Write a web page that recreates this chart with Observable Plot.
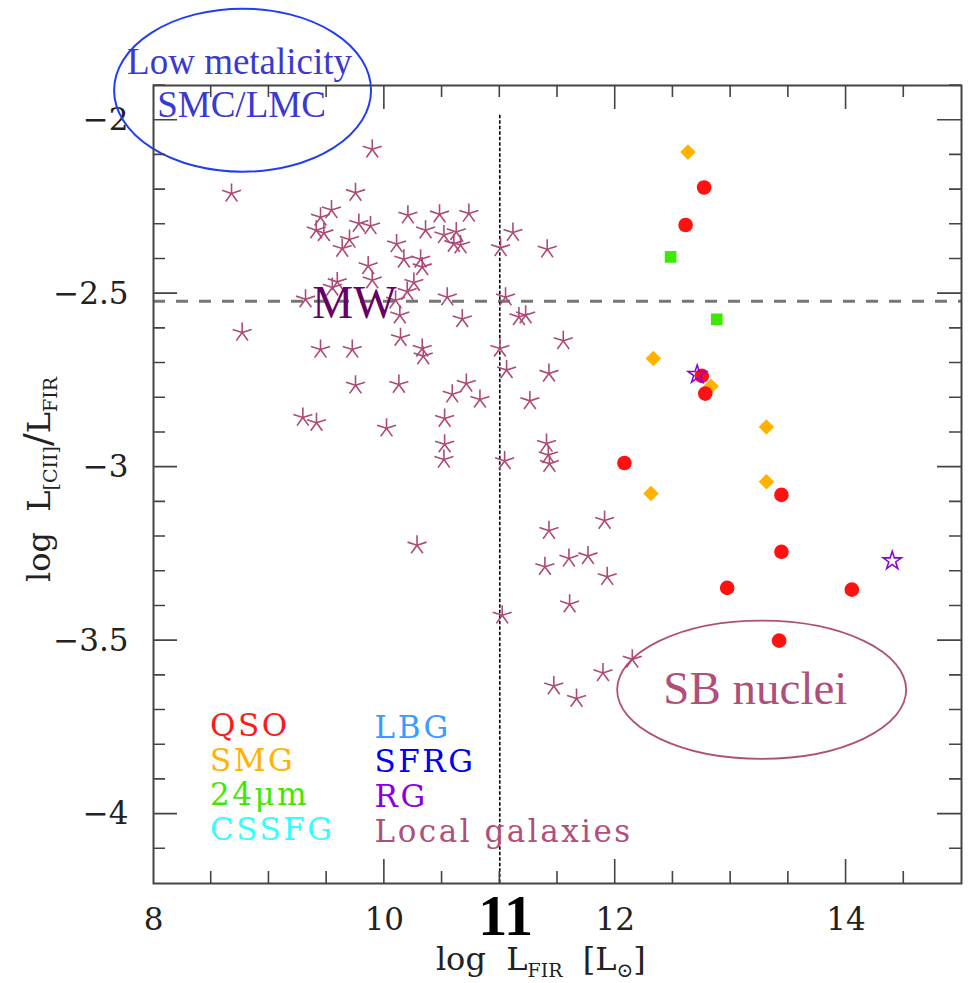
<!DOCTYPE html>
<html>
<head>
<meta charset="utf-8">
<script src="https://cdn.jsdelivr.net/npm/d3@7"></script>
<script src="https://cdn.jsdelivr.net/npm/@observablehq/plot@0.6"></script>
<style>
  html, body { margin: 0; padding: 0; background: #fff; }
</style>
</head>
<body>
<div id="chart"></div>
<script>
// ---- Data ----
// Local galaxies (asterisks)
const localX = [9.895, 8.676, 9.750, 9.542, 9.447, 9.410, 9.476, 9.779, 9.880, 10.204,
  10.478, 10.732, 10.357, 10.516, 10.623, 10.602, 10.660, 9.698, 9.635, 10.106,
  10.169, 10.314, 10.328, 9.860, 11.114, 11.007, 11.411, 9.592, 9.895, 9.549,
  10.256, 10.198, 9.317, 10.097, 10.545, 11.050, 10.134, 10.675, 11.166, 11.224,
  8.768, 10.140, 9.447, 9.722, 10.328, 10.337, 11.001, 11.059, 11.426, 9.750,
  10.126, 10.710, 10.588, 10.828, 11.261, 9.294, 9.412, 10.019, 10.522, 10.522,
  10.516, 11.042, 11.405, 11.420, 11.430, 10.283, 11.426, 11.908, 11.391, 11.599,
  11.764, 11.931, 11.605, 11.021, 12.148, 11.894, 11.468, 11.665, 11.550];
const localY = [-2.084, -2.211, -2.209, -2.259, -2.280, -2.317, -2.325, -2.298, -2.305, -2.274,
  -2.271, -2.269, -2.317, -2.331, -2.322, -2.356, -2.360, -2.344, -2.370, -2.357,
  -2.401, -2.401, -2.423, -2.420, -2.324, -2.368, -2.372, -2.466, -2.461, -2.482,
  -2.468, -2.494, -2.516, -2.519, -2.510, -2.510, -2.562, -2.573, -2.567, -2.562,
  -2.612, -2.627, -2.661, -2.661, -2.658, -2.680, -2.658, -2.720, -2.730, -2.764,
  -2.762, -2.759, -2.790, -2.805, -2.809, -2.857, -2.872, -2.888, -2.860, -2.934,
  -2.978, -2.982, -2.932, -2.965, -2.990, -3.225, -3.183, -3.154, -3.287, -3.263,
  -3.256, -3.316, -3.395, -3.427, -3.554, -3.593, -3.631, -3.667, -2.636];
// QSO (red circles)
const qsoX = [12.77, 12.61, 12.75, 12.78, 12.08, 13.44, 13.44, 12.97, 14.05, 13.42];
const qsoY = [-2.194, -2.302, -2.737, -2.788, -2.988, -3.080, -3.244, -3.348, -3.353, -3.500];
// SMG (orange diamonds)
const smgX = [12.63, 12.33, 12.83, 13.31, 13.31, 12.31];
const smgY = [-2.092, -2.687, -2.767, -2.884, -3.042, -3.076];
// 24 micron (green squares)
const mipsX = [12.48, 12.88];
const mipsY = [-2.394, -2.574];
// RG (purple open stars)
const rgX = [12.71, 14.40];
const rgY = [-2.733, -3.270];

// Reference lines
const mwLevel = -2.522;
const ulirgLimit = 11;

// Axes ticks / labels
const xLabelTicks = [8, 10, 12, 14];
const yLabelTicks = [-4, -3.5, -3, -2.5, -2];
const xMinorTicks = d3.range(17, 30).map(k => k / 2);   // every 0.5
const yMinorTicks = d3.range(-41, -18).map(k => k / 10); // every 0.1

// Legend
const legendCol1 = ["QSO", "SMG", "24\u03bcm", "CSSFG"];
const legendCol1Colors = ["#ff1a1a", "#ffb300", "#3fe800", "#33ffff"];
const legendCol2 = ["LBG", "SFRG", "RG", "Local galaxies"];
const legendCol2Colors = ["#3d9bff", "#0000ee", "#8a00e0", "#b0507a"];

// ---- Styles ----
const localColor = "#ad4a76";
const frameColor = "#444";
const serif = "DejaVu Serif";
const times = "Liberation Serif";

const toRows = (xs, ys) => xs.map((x, i) => ({x, y: ys[i]}));
const local = toRows(localX, localY);
const qso = toRows(qsoX, qsoY);
const smg = toRows(smgX, smgY);
const mips = toRows(mipsX, mipsY);
const rg = toRows(rgX, rgY);
const leg1 = legendCol1.map((label, i) => ({label, color: legendCol1Colors[i], row: i}));
const leg2 = legendCol2.map((label, i) => ({label, color: legendCol2Colors[i], row: i}));

// five-armed asterisk symbol
const asterisk5 = {
  draw(context, size) {
    const r = Math.sqrt(size / Math.PI);
    for (let k = 0; k < 5; k++) {
      const a = -Math.PI / 2 + k * 2 * Math.PI / 5;
      context.moveTo(0, 0);
      context.lineTo(r * Math.cos(a), r * Math.sin(a));
    }
  }
};

// inward ticks on all four sides
function ticksMark(index, scales, values, dims) {
  const {x, y} = scales;
  const left = dims.marginLeft, right = dims.width - dims.marginRight;
  const top = dims.marginTop, bottom = dims.height - dims.marginBottom;
  const g = d3.create("svg:g").attr("stroke", frameColor).attr("stroke-width", 1.6).attr("fill", "none");
  for (const v of xMinorTicks) {
    const major = Math.abs(v / 2 - Math.round(v / 2)) < 1e-6;
    const len = major ? 24 : 12;
    const px = x(v);
    g.append("path").attr("d", `M${px},${bottom}V${bottom - len}M${px},${top}V${top + len}`);
  }
  for (const v of yMinorTicks) {
    const major = Math.abs(v * 2 - Math.round(v * 2)) < 1e-6;
    const len = major ? 24 : 12;
    const py = y(v);
    g.append("path").attr("d", `M${left},${py}H${left + len}M${right},${py}H${right - len}`);
  }
  return g.node();
}

// annotation ellipses in data units
const ellipses = [
  {cx: 8.776, cy: -1.915, rx: 1.113, ry: 0.235, stroke: "#1f3df5", width: 2},
  {cx: 13.273, cy: -3.643, rx: 1.252, ry: 0.199, stroke: "#b0507a", width: 1.8}
];
function ellipseMark(index, scales) {
  const {x, y} = scales;
  const g = d3.create("svg:g").attr("fill", "none");
  for (const e of ellipses) {
    g.append("ellipse")
      .attr("cx", x(e.cx)).attr("cy", y(e.cy))
      .attr("rx", Math.abs(x(e.cx + e.rx) - x(e.cx)))
      .attr("ry", Math.abs(y(e.cy + e.ry) - y(e.cy)))
      .attr("stroke", e.stroke).attr("stroke-width", e.width);
  }
  return g.node();
}

// axis titles with subscripts
function titlesMark(index, scales) {
  const {x, y} = scales;
  const g = d3.create("svg:g").attr("font-family", serif).attr("fill", "#222");
  // x title
  const tx = g.append("text")
    .attr("x", x(11.36)).attr("y", y(-4.45))
    .attr("text-anchor", "middle").attr("font-size", 32)
    .style("white-space", "pre");
  tx.append("tspan").text("log  L");
  tx.append("tspan").attr("font-size", 19).attr("dy", 7).text("FIR");
  tx.append("tspan").attr("dy", -7).text("  [L");
  tx.append("tspan").attr("font-size", 20).attr("dy", 7).text("\u2299");
  tx.append("tspan").attr("dy", -7).text("]");
  // y title
  const ty = g.append("text")
    .attr("transform", `translate(${x(7.107)},${y(-3.037)}) rotate(-90)`)
    .attr("text-anchor", "middle").attr("font-size", 32)
    .style("white-space", "pre");
  ty.append("tspan").text("log  L");
  ty.append("tspan").attr("font-size", 19).attr("dy", 7).text("[CII]");
  ty.append("tspan").attr("dy", -7).attr("font-size", 38).text("/");
  ty.append("tspan").text("L");
  ty.append("tspan").attr("font-size", 19).attr("dy", 7).text("FIR");
  return g.node();
}

const plot = Plot.plot({
  width: 971,
  height: 983,
  marginLeft: 153,
  marginRight: 10,
  marginTop: 85,
  marginBottom: 100,
  style: {fontFamily: serif, fontSize: "31px", background: "#fff", color: "#222", overflow: "visible"},
  color: {type: "identity"},
  x: {domain: [8, 15], ticks: xLabelTicks, tickSize: 0, tickPadding: 24, label: null,
      tickFormat: d => String(d)},
  y: {domain: [-4.2, -1.9], ticks: yLabelTicks, tickSize: 0, tickPadding: 25, label: null,
      tickFormat: d => (d < 0 ? "\u2212" : "") + String(Math.abs(d))},
  marks: [
    ellipseMark,
    Plot.ruleY([mwLevel], {stroke: "#777", strokeWidth: 3, strokeDasharray: "12,11"}),
    Plot.ruleX([ulirgLimit], {y1: -1.986, y2: -4.2, stroke: "#000", strokeWidth: 1.6, strokeDasharray: "3.5,2"}),
    Plot.dot(local, {x: "x", y: "y", symbol: asterisk5, r: 10, stroke: localColor, strokeWidth: 1.6, fill: "none"}),
    Plot.dot(smg, {x: "x", y: "y", symbol: "diamond2", r: 7, fill: "#ffb300", stroke: "none"}),
    Plot.dot(mips, {x: "x", y: "y", symbol: "square", r: 6.6, fill: "#3fe800", stroke: "none"}),
    Plot.dot(qso, {x: "x", y: "y", r: 7.3, fill: "#ff1111", stroke: "none"}),
    Plot.dot(rg, {x: "x", y: "y", symbol: "star", r: 5.7, fill: "none", stroke: "#8a00e0", strokeWidth: 1.6}),
    Plot.text(["Low metalicity"], {x: 7.771, y: -1.867, text: d => d, textAnchor: "start", lineAnchor: "bottom",
      fontFamily: times, fontSize: 37, fill: "#3a3ad0"}),
    Plot.text(["SMC/LMC"], {x: 8.032, y: -1.990, text: d => d, textAnchor: "start", lineAnchor: "bottom",
      fontFamily: times, fontSize: 37, fill: "#3a3ad0"}),
    Plot.text(["MW"], {x: 9.376, y: -2.571, text: d => d, textAnchor: "start", lineAnchor: "bottom",
      fontFamily: times, fontSize: 46, fill: "#660066"}),
    Plot.text(["SB nuclei"], {x: 13.214, y: -3.683, text: d => d, textAnchor: "middle", lineAnchor: "bottom",
      fontFamily: times, fontSize: 47, fill: "#b0507a"}),
    Plot.text(leg1, {x: 8.49, y: d => -3.775 - 0.1 * d.row, text: "label", fill: "color",
      textAnchor: "start", lineAnchor: "bottom", fontFamily: serif, fontSize: 31}),
    Plot.text(leg2, {x: 9.915, y: d => -3.78 - 0.1 * d.row, text: "label", fill: "color",
      textAnchor: "start", lineAnchor: "bottom", fontFamily: serif, fontSize: 31}),
    Plot.text(["11"], {x: 11.05, y: -4.349, text: d => d, textAnchor: "middle", lineAnchor: "bottom",
      fontFamily: times, fontWeight: "bold", fontSize: 58, fill: "#000"}),
    Plot.frame({stroke: frameColor, strokeWidth: 2}),
    ticksMark,
    titlesMark
  ]
});
// widen the legend lettering like the original Hershey font
const legendLabels = new Set([...legendCol1, ...legendCol2]);
d3.select(plot).selectAll("text")
  .filter(function() { return legendLabels.has(this.textContent); })
  .attr("letter-spacing", 2.5);
document.getElementById("chart").appendChild(plot);
</script>
</body>
</html>
